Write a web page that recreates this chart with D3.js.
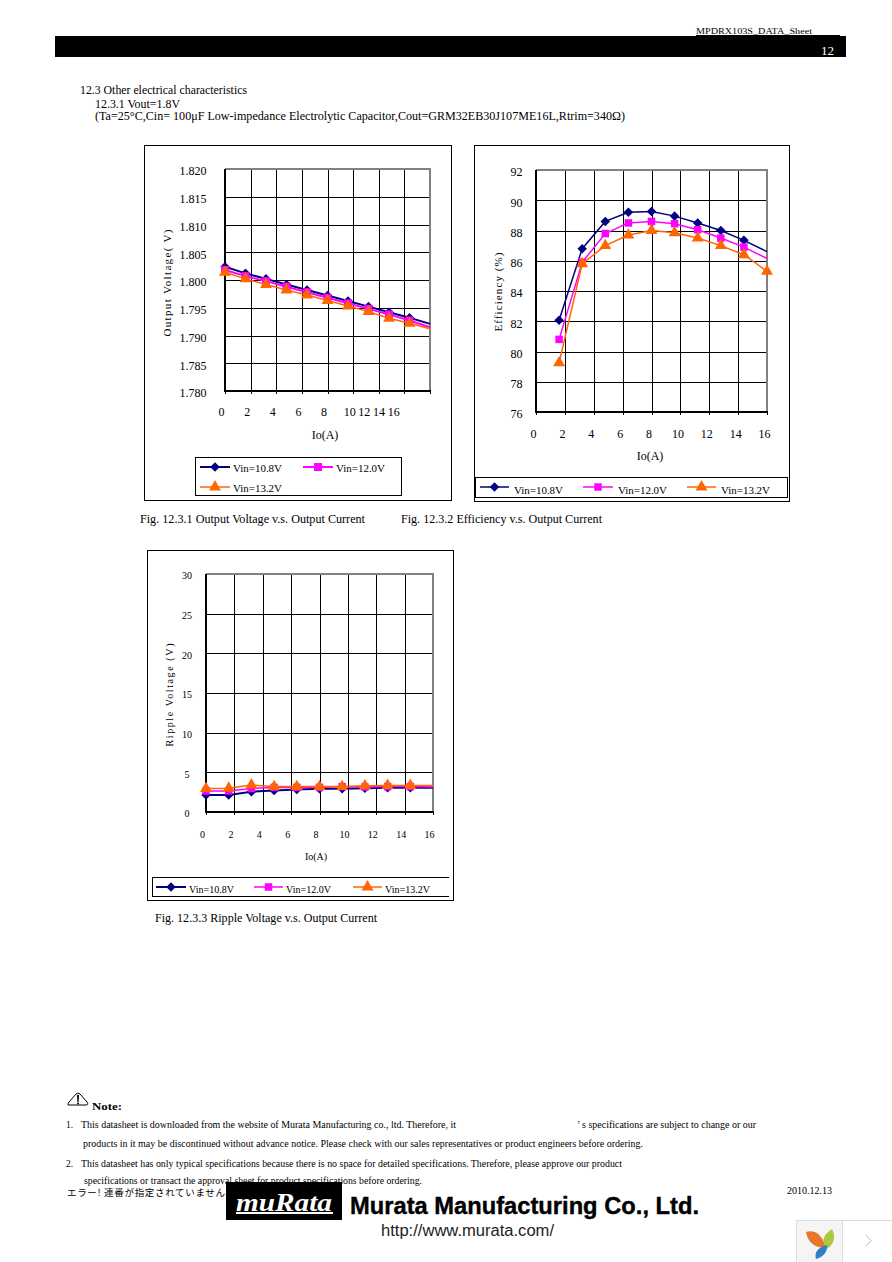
<!DOCTYPE html>
<html><head><meta charset="utf-8">
<script src="https://cdn.jsdelivr.net/npm/d3@7/dist/d3.min.js"></script>
<style>html,body{margin:0;padding:0;background:#fff}svg{display:block}text{font-family:"Liberation Serif",serif;fill:#000}</style>
</head><body><svg id="page" width="892" height="1262"></svg>
<script>
// ---- data ----
const seriesNames = ["Vin=10.8V","Vin=12.0V","Vin=13.2V"];
const ioFromZero = [0,1.6,3.2,4.8,6.4,8,9.6,11.2,12.8,14.4,16];
const ioFromFirst = [1.6,3.2,4.8,6.4,8,9.6,11.2,12.8,14.4,16];
const xTicks = [0,2,4,6,8,10,12,14,16];
const xLabelsShiftedFig1 = [0,2,4,6,8,10,11.15,12.3,13.45];

const vout108 = [1.8024,1.8012,1.8002,1.7992,1.7982,1.7972,1.7962,1.7952,1.7942,1.7932,1.7921];
const vout120 = [1.8018,1.8007,1.7998,1.7988,1.7978,1.7968,1.7958,1.7948,1.7938,1.7927,1.7915];
const vout132 = [1.8014,1.8002,1.7992,1.7982,1.7973,1.7963,1.7953,1.7943,1.7931,1.7922,1.7912];
const voutTicks = [1.78,1.785,1.79,1.795,1.80,1.805,1.81,1.815,1.82];

const eff108 = [82.06,86.8,88.6,89.2,89.25,88.95,88.5,88.0,87.35,86.6];
const eff120 = [80.8,85.9,87.8,88.5,88.6,88.45,88.05,87.5,86.9,86.15];
const eff132 = [79.25,85.8,87.0,87.7,88.0,87.85,87.5,87.0,86.4,85.3];
const effTicks = [76,78,80,82,84,86,88,90,92];

const rip108 = [2.15,2.15,2.55,2.72,2.85,2.93,2.93,3.0,3.05,3.05,3.05];
const rip120 = [2.65,2.65,2.97,3.1,3.1,3.1,3.2,3.15,3.2,3.2,3.15];
const rip132 = [2.95,3.0,3.4,3.2,3.2,3.2,3.2,3.3,3.35,3.35,3.35];
const ripTicks = [0,5,10,15,20,25,30];

const colors = ["#000080","#ff00ff","#ff6600"];
const symbols = [d3.symbolDiamond2,d3.symbolSquare,d3.symbolTriangle];

// ---- helpers ----
const svg = d3.select("#page");
function T(parent,x,y,s,o={}){
  const t = parent.append("text").attr("x",x).attr("y",y).text(s)
    .attr("font-size",o.size||10);
  if(o.len) t.attr("textLength",o.len).attr("lengthAdjust",o.adj||"spacingAndGlyphs");
  if(o.anchor) t.attr("text-anchor",o.anchor);
  if(o.weight) t.attr("font-weight",o.weight);
  if(o.style) t.attr("font-style",o.style);
  if(o.family) t.style("font-family",o.family);
  if(o.fill) t.style("fill",o.fill);
  if(o.stroke) t.style("stroke",o.stroke).style("stroke-width",o.strokeW);
  if(o.rotate) t.attr("transform",`rotate(${o.rotate} ${x} ${y})`);
  return t;
}
function rect(p,x0,y0,x1,y1,fill,stroke,w){
  return p.append("rect").attr("x",x0).attr("y",y0).attr("width",x1-x0).attr("height",y1-y0)
    .attr("fill",fill||"none").attr("stroke",stroke||"none").attr("stroke-width",w||1)
    .attr("shape-rendering","crispEdges");
}
function chart(c){
  const g = svg.append("g");
  rect(g,c.frame[0],c.frame[1],c.frame[2],c.frame[3],"#fff","#000");
  const [L,T0,R,B] = c.plot;
  const x = d3.scaleLinear().domain([0,16]).range([L,R]);
  const y = d3.scaleLinear().domain(c.yDomain).range([B,T0]);
  const gy = g.append("g").attr("transform",`translate(${L},0)`)
    .call(d3.axisLeft(y).tickValues(c.yTicks).tickSize(-(R-L)).tickFormat(c.yFormat));
  const gx = g.append("g").attr("transform",`translate(0,${B})`)
    .call(d3.axisBottom(x).tickValues(xTicks).tickSize(-(B-T0)).tickFormat(d3.format("d")));
  const stubs = g.append("g").attr("transform",`translate(0,${B})`)
    .call(d3.axisBottom(x).tickValues(xTicks).tickSize(3).tickFormat(""));
  stubs.select(".domain").remove();
  stubs.selectAll("line").attr("stroke","#000").attr("shape-rendering","crispEdges");
  [gx,gy].forEach(a=>{a.select(".domain").remove();
    a.selectAll("line").attr("stroke","#000").attr("shape-rendering","crispEdges");});
  gy.selectAll("text").attr("font-size",c.tickSize).attr("font-family","Liberation Serif")
    .attr("text-anchor","middle").attr("x",c.yLabelX-L).attr("dy",null).attr("y",c.tickSize*0.33+c.yLabelDy);
  gx.selectAll("text").attr("font-size",c.tickSize).attr("font-family","Liberation Serif")
    .attr("dy",null).attr("y",c.xLabelY-B)
    .attr("x",(d,i)=>(c.xLabels?x(c.xLabels[i])-x(d):0)-c.xLabelDx);
  // border: grey top/right, black left/bottom
  g.append("line").attr("x1",L).attr("x2",R+1).attr("y1",T0).attr("y2",T0).attr("stroke","#808080").attr("stroke-width",2).attr("shape-rendering","crispEdges");
  g.append("line").attr("x1",R).attr("x2",R).attr("y1",T0).attr("y2",B).attr("stroke","#808080").attr("stroke-width",2).attr("shape-rendering","crispEdges");
  g.append("line").attr("x1",L).attr("x2",L).attr("y1",T0).attr("y2",B+1).attr("stroke","#000").attr("stroke-width",2).attr("shape-rendering","crispEdges");
  g.append("line").attr("x1",L).attr("x2",R+1).attr("y1",B).attr("y2",B).attr("stroke","#000").attr("stroke-width",2).attr("shape-rendering","crispEdges");
  // series
  const line = d3.line().x(d=>x(d[0])).y(d=>y(d[1]));
  c.series.forEach((vals,i)=>{
    const pts = vals.map((v,j)=>[c.io[j],v]);
    g.append("path").attr("d",line(pts)).attr("fill","none").attr("stroke",colors[i]).attr("stroke-width",c.lineW[i]);
    const marked = pts.slice(0,c.markCount[i]);
    g.selectAll(null).data(marked).enter().append("path")
      .attr("d",d3.symbol().type(symbols[i]).size(c.markSize[i]))
      .attr("fill",colors[i])
      .attr("transform",d=>`translate(${x(d[0])},${y(d[1])})`);
  });
  // titles
  T(g,c.yTitle[0],c.yTitle[1],c.yTitle[2],{size:c.titleSize,rotate:-90,anchor:"middle",len:c.yTitle[3],adj:"spacing"});
  T(g,c.xTitle[0],c.xTitle[1],"Io(A)",{size:c.xTitleSize,anchor:"middle"});
  // legend
  const lb = c.legend.box;
  if(c.legend.noRight){
    [[lb[0],lb[1],lb[2],lb[1]],[lb[0],lb[1],lb[0],lb[3]],[lb[0],lb[3],lb[2],lb[3]]].forEach(a=>
      g.append("line").attr("x1",a[0]).attr("y1",a[1]).attr("x2",a[2]).attr("y2",a[3]).attr("stroke","#000").attr("shape-rendering","crispEdges"));
  } else rect(g,lb[0],lb[1],lb[2],lb[3],"#fff","#000");
  c.legend.items.forEach((it,i)=>{
    g.append("line").attr("x1",it[0]).attr("x2",it[1]).attr("y1",it[2]).attr("y2",it[2]).attr("stroke",colors[i]).attr("stroke-width",c.lineW[i]);
    g.append("path").attr("d",d3.symbol().type(symbols[i]).size(c.markSize[i]))
      .attr("fill",colors[i]).attr("transform",`translate(${(it[0]+it[1])/2},${it[2]})`);
    T(g,it[1]+c.legend.gap,it[3],seriesNames[i],{size:c.legend.size,len:c.legend.len});
  });
}

// ---- page header ----
rect(svg,55,36,846,57,"#000");
T(svg,696,34,"MPDRX103S_DATA_Sheet",{size:9,len:116});
svg.append("line").attr("x1",696).attr("x2",840).attr("y1",35).attr("y2",35).attr("stroke","#000").attr("shape-rendering","crispEdges");
T(svg,821,55,"12",{size:13,fill:"#fff"});
T(svg,80,94,"12.3 Other electrical characteristics",{size:12,len:167});
T(svg,95,108,"12.3.1 Vout=1.8V",{size:12,len:85});
T(svg,95,120,"(Ta=25°C,Cin= 100μF Low-impedance Electrolytic Capacitor,Cout=GRM32EB30J107ME16L,Rtrim=340Ω)",{size:12,len:530});

// ---- charts ----
chart({frame:[144,145,451,500],plot:[225,169,430,391],yDomain:[1.78,1.82],yTicks:voutTicks,yFormat:d3.format(".3f"),
  yLabelX:193,yLabelDy:2,xLabelY:416,xLabelDx:4,xLabels:xLabelsShiftedFig1,tickSize:12,titleSize:11,xTitleSize:12,
  io:ioFromZero,series:[vout108,vout120,vout132],lineW:[2,2,1.5],markCount:[10,10,10],markSize:[58,64,62],
  yTitle:[171,283,"Output Voltage( V)",107],xTitle:[325,439],
  legend:{box:[195,457,401,495],size:11,len:49,gap:3,items:[[200,230,467,472],[303,333,467,472],[200,230,487,492]]}});
chart({frame:[474,145,789,501],plot:[536,170,767,412],yDomain:[76,92],yTicks:effTicks,yFormat:d3.format("d"),
  yLabelX:516.5,yLabelDy:2,xLabelY:438,xLabelDx:3,tickSize:12,titleSize:11,xTitleSize:12,
  io:ioFromFirst,series:[eff108,eff120,eff132],lineW:[1.5,1.5,1.5],markCount:[9,9,10],markSize:[58,56,62],
  yTitle:[502,292,"Efficiency (%)",79],xTitle:[650,460],
  legend:{box:[475,477,787,497],size:11,len:49,gap:5,items:[[480,509,487,494],[583,613,487,494],[687,716,487,494]]}});
chart({frame:[147,550,453,900],plot:[206,574,433,812],yDomain:[0,30],yTicks:ripTicks,yFormat:d3.format("d"),
  yLabelX:187,yLabelDy:1.5,xLabelY:838,xLabelDx:4,tickSize:10,titleSize:10,xTitleSize:10,
  io:ioFromZero,series:[rip108,rip120,rip132],lineW:[2,1.5,1.5],markCount:[10,10,10],markSize:[58,56,62],
  yTitle:[173,695,"Ripple Voltage (V)",103],xTitle:[316,860],
  legend:{noRight:true,box:[152,877,449,896],size:10,len:45,gap:3,items:[[156,186,887,893],[254,283,887,893],[353,382,887,893]]}});

T(svg,140,523,"Fig. 12.3.1 Output Voltage v.s. Output Current",{size:12,len:225});
T(svg,401,523,"Fig. 12.3.2 Efficiency v.s. Output Current",{size:12,len:201});
T(svg,155,922,"Fig. 12.3.3 Ripple Voltage v.s. Output Current",{size:12,len:222});

// ---- notes ----
const ic = svg.append("g").attr("transform","translate(68,1092)");
ic.append("path").attr("d","M0,13 Q0,11 1,10 L8,2 Q10,0 12,2 L19,10 Q21,13 18,13 Z").attr("fill","#fff").attr("stroke","#000").attr("stroke-width",1);
ic.append("path").attr("d","M9,3 L11,3 L10.6,10 L9.4,10 Z").attr("fill","#000");
ic.append("circle").attr("cx",10).attr("cy",11.5).attr("r",1).attr("fill","#000");
T(svg,92,1110,"Note:",{size:11,weight:"bold",len:30});
T(svg,66,1128,"1.",{size:9.5});
T(svg,81,1128,"This datasheet is downloaded from the website of Murata Manufacturing co., ltd. Therefore, it",{size:9.5,len:375});
T(svg,577,1128,"’ s specifications are subject to change or our",{size:9.5,len:179});
T(svg,83,1147,"products in it may be discontinued without advance notice. Please check with our sales representatives or product engineers before ordering.",{size:9.5,len:560});
T(svg,66,1167,"2.",{size:9.5});
T(svg,81,1167,"This datasheet has only typical specifications because there is no space for detailed specifications. Therefore, please approve our product",{size:9.5,len:541});
T(svg,84,1184,"specifications or transact the approval sheet for product specifications before ordering.",{size:9.5,len:338});
T(svg,67,1196,"エラー! 連番が指定されていません",{size:9.5,family:"'Noto Sans CJK JP'",len:158,adj:"spacing"});
T(svg,787,1194,"2010.12.13",{size:10,len:45});

// ---- logo ----
rect(svg,226,1182,342,1220,"#000");
T(svg,284,1211,"muRata",{size:25,weight:"bold",style:"italic",fill:"#fff",anchor:"middle",len:96});
rect(svg,236,1212,333,1214,"#fff");
T(svg,350,1214,"Murata Manufacturing Co., Ltd.",{size:24,weight:"bold",family:"'Liberation Sans'",len:349,stroke:"#000",strokeW:0.4});
T(svg,381,1236,"http://www.murata.com/",{size:16,family:"'Liberation Sans'",len:173,fill:"#222"});

// ---- corner widget ----
rect(svg,796,1220,842,1263,"#f5f5f5","#ddd");
rect(svg,842,1220,892,1263,"#fff","#ddd");
svg.append("path").attr("d","M806,1232 Q820,1228 826,1248 Q809,1248 806,1232 Z").attr("fill","#e8762b");
svg.append("path").attr("d","M832,1229 Q838,1241 827,1249 Q818,1238 832,1229 Z").attr("fill","#a9c93f");
svg.append("path").attr("d","M827,1245 Q828,1255 816,1259 Q813,1249 827,1245 Z").attr("fill","#2f7fc9");
svg.append("path").attr("d","M866,1235 L871,1240.5 L866,1246").attr("fill","none").attr("stroke","#bbb");
</script></body></html>
